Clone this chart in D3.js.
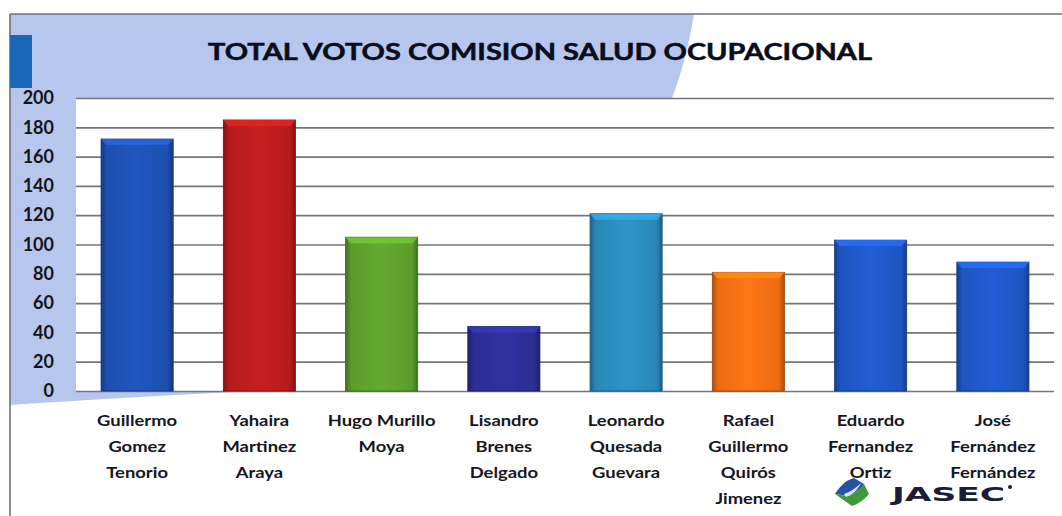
<!DOCTYPE html>
<html>
<head>
<meta charset="utf-8">
<script src="https://cdn.jsdelivr.net/npm/d3@7"></script>
<style>
	body { margin: 0; background: #fff; }
	svg { display: block; }
</style>
</head>
<body>
<svg width="1062" height="516"></svg>
<script>
const chartTitle = "TOTAL VOTOS COMISION SALUD OCUPACIONAL";
const candidates = [
	["Guillermo", "Gomez", "Tenorio"],
	["Yahaira", "Martinez", "Araya"],
	["Hugo Murillo", "Moya"],
	["Lisandro", "Brenes", "Delgado"],
	["Leonardo", "Quesada", "Guevara"],
	["Rafael", "Guillermo", "Quirós", "Jimenez"],
	["Eduardo", "Fernandez", "Ortiz"],
	["José", "Fernández", "Fernández"]
];
const votes = [172, 185, 105, 44, 121, 81, 103, 88];
const barColors = ["#1d4fae", "#b51b1b", "#5b9c2c", "#2b2d92", "#2987b7", "#ec6c12", "#1e55c2", "#1e55c2"];
const yTicks = [0, 20, 40, 60, 80, 100, 120, 140, 160, 180, 200];

const holder = {
	"svg": null,
	"x": null,
	"y": null,
	"plot": { "left": 76, "right": 1054, "top": 98, "bottom": 391 }
};

function start() {
	holder.svg = d3.select("svg");
	const keys = candidates.map((c) => c.join(" "));
	holder.x = d3.scaleBand().domain(keys).range([holder.plot.left, holder.plot.right])
		.paddingInner(0.41).paddingOuter(0.205);
	holder.y = d3.scaleLinear().domain([0, 200]).range([holder.plot.bottom, holder.plot.top]);
	drawBackground();
	drawGrid();
	drawBars(keys);
	drawLabels(keys);
	drawLogo();
	return;
}

function drawBackground() {
	const svg = holder.svg;
	const p = holder.plot;
	// light blue swoosh behind title and axis
	svg.append("path")
		.attr("d", "M10,14 L694,14 C689,45 681,75 672," + p.top + " L600," + p.bottom +
			" L265," + p.bottom + " C180,394 90,400 10,405 Z")
		.attr("fill", "#b6c6ec");
	svg.append("rect")
		.attr("x", p.left).attr("y", holder.y(200))
		.attr("width", p.right - p.left).attr("height", holder.y(0) - holder.y(200))
		.attr("fill", "#fff");
	// frame
	svg.append("line").attr("x1", 10).attr("x2", 1062).attr("y1", 14).attr("y2", 14)
		.attr("stroke", "#6f7078").attr("stroke-width", 1.6);
	svg.append("line").attr("x1", 10).attr("x2", 10).attr("y1", 14).attr("y2", 516)
		.attr("stroke", "#6f7078").attr("stroke-width", 1.6);
	svg.append("rect").attr("x", 10).attr("y", 35).attr("width", 22).attr("height", 53)
		.attr("fill", "#1a67b9");
	svg.append("text")
		.attr("x", 208).attr("y", 60)
		.attr("textLength", 664).attr("lengthAdjust", "spacingAndGlyphs")
		.attr("font-family", "Lato, sans-serif").attr("font-weight", "bold")
		.attr("font-size", 22).attr("fill", "#0a0d1c")
		.attr("stroke", "#0a0d1c").attr("stroke-width", 0.5)
		.text(chartTitle);
	return;
}

function drawGrid() {
	const g = holder.svg.append("g").attr("transform", "translate(" + holder.plot.left + ",0)");
	const axis = d3.axisLeft(holder.y).tickValues(yTicks)
		.tickSize(-(holder.plot.right - holder.plot.left)).tickPadding(22);
	g.call(axis);
	g.select(".domain").remove();
	g.selectAll(".tick line").attr("stroke", "#74767e").attr("stroke-width", 1.7);
	g.selectAll(".tick text")
		.attr("font-family", "Lato, sans-serif").attr("font-weight", "bold")
		.attr("font-size", 18).attr("fill", "#141414");
	return;
}

function drawBars(keys) {
	const defs = holder.svg.append("defs");
	barColors.forEach((c, i) => {
		const base = d3.color(c);
		const grad = defs.append("linearGradient").attr("id", "bar" + i)
			.attr("x1", 0).attr("x2", 1).attr("y1", 0).attr("y2", 0);
		grad.append("stop").attr("offset", 0).attr("stop-color", base.darker(0.9));
		grad.append("stop").attr("offset", 0.08).attr("stop-color", base);
		grad.append("stop").attr("offset", 0.5).attr("stop-color", base.brighter(0.25));
		grad.append("stop").attr("offset", 0.92).attr("stop-color", base);
		grad.append("stop").attr("offset", 1).attr("stop-color", base.darker(0.9));
	});
	const g = holder.svg.append("g");
	const bw = holder.x.bandwidth();
	g.selectAll("rect.bar").data(votes).join("rect")
		.attr("class", "bar")
		.attr("x", (d, i) => holder.x(keys[i]))
		.attr("y", (d) => holder.y(d))
		.attr("width", bw)
		.attr("height", (d) => holder.y(0) - holder.y(d))
		.attr("fill", (d, i) => "url(#bar" + i + ")")
		.attr("stroke", (d, i) => d3.color(barColors[i]).darker(1.2))
		.attr("stroke-width", 0.8);
	// top bevel
	g.selectAll("path.bevel").data(votes).join("path")
		.attr("class", "bevel")
		.attr("d", (d, i) => {
			const x0 = holder.x(keys[i]);
			const y0 = holder.y(d);
			return "M" + x0 + "," + y0 + " L" + (x0 + bw) + "," + y0 +
				" L" + (x0 + bw - 5) + "," + (y0 + 6) + " L" + (x0 + 5) + "," + (y0 + 6) + " Z";
		})
		.attr("fill", (d, i) => d3.color(barColors[i]).brighter(0.7))
		.attr("opacity", 0.85);
	return;
}

function drawLabels(keys) {
	const g = holder.svg.append("g");
	candidates.forEach((lines, i) => {
		const cx = holder.x(keys[i]) + holder.x.bandwidth() / 2;
		lines.forEach((t, j) => {
			g.append("text")
				.attr("transform", "translate(" + cx + "," + (426 + j * 26) + ") scale(1.15,1)")
				.attr("text-anchor", "middle")
				.attr("font-family", "Lato, sans-serif").attr("font-weight", "bold")
				.attr("font-size", 16).attr("fill", "#16161e")
				.text(t);
		});
	});
	return;
}

function drawLogo() {
	const g = holder.svg.append("g").attr("transform", "translate(852,492)");
	g.append("path")
		.attr("d", "M-17,2 C-12,-6 -6,-12 2,-14 L12,-8 C8,-2 2,2 -4,4 Z")
		.attr("fill", "#2453a8");
	g.append("path")
		.attr("d", "M-17,2 L-4,4 C2,2 8,-2 12,-8 L17,2 C12,8 6,12 0,14 Z")
		.attr("fill", "#3c9a3c");
	g.append("path")
		.attr("d", "M-8,2 C-2,0 4,-4 9,-9 C6,-2 0,3 -6,5 Z")
		.attr("fill", "#fff").attr("opacity", 0.85);
	holder.svg.append("text")
		.attr("x", 892).attr("y", 501)
		.attr("textLength", 113).attr("lengthAdjust", "spacingAndGlyphs")
		.attr("font-family", "DejaVu Sans, sans-serif").attr("font-weight", "bold")
		.attr("font-size", 19).attr("fill", "#1a1d33")
		.text("JASEC");
	holder.svg.append("circle").attr("cx", 1010).attr("cy", 487).attr("r", 2).attr("fill", "#1a1d33");
	return;
}

start();
</script>
</body>
</html>
